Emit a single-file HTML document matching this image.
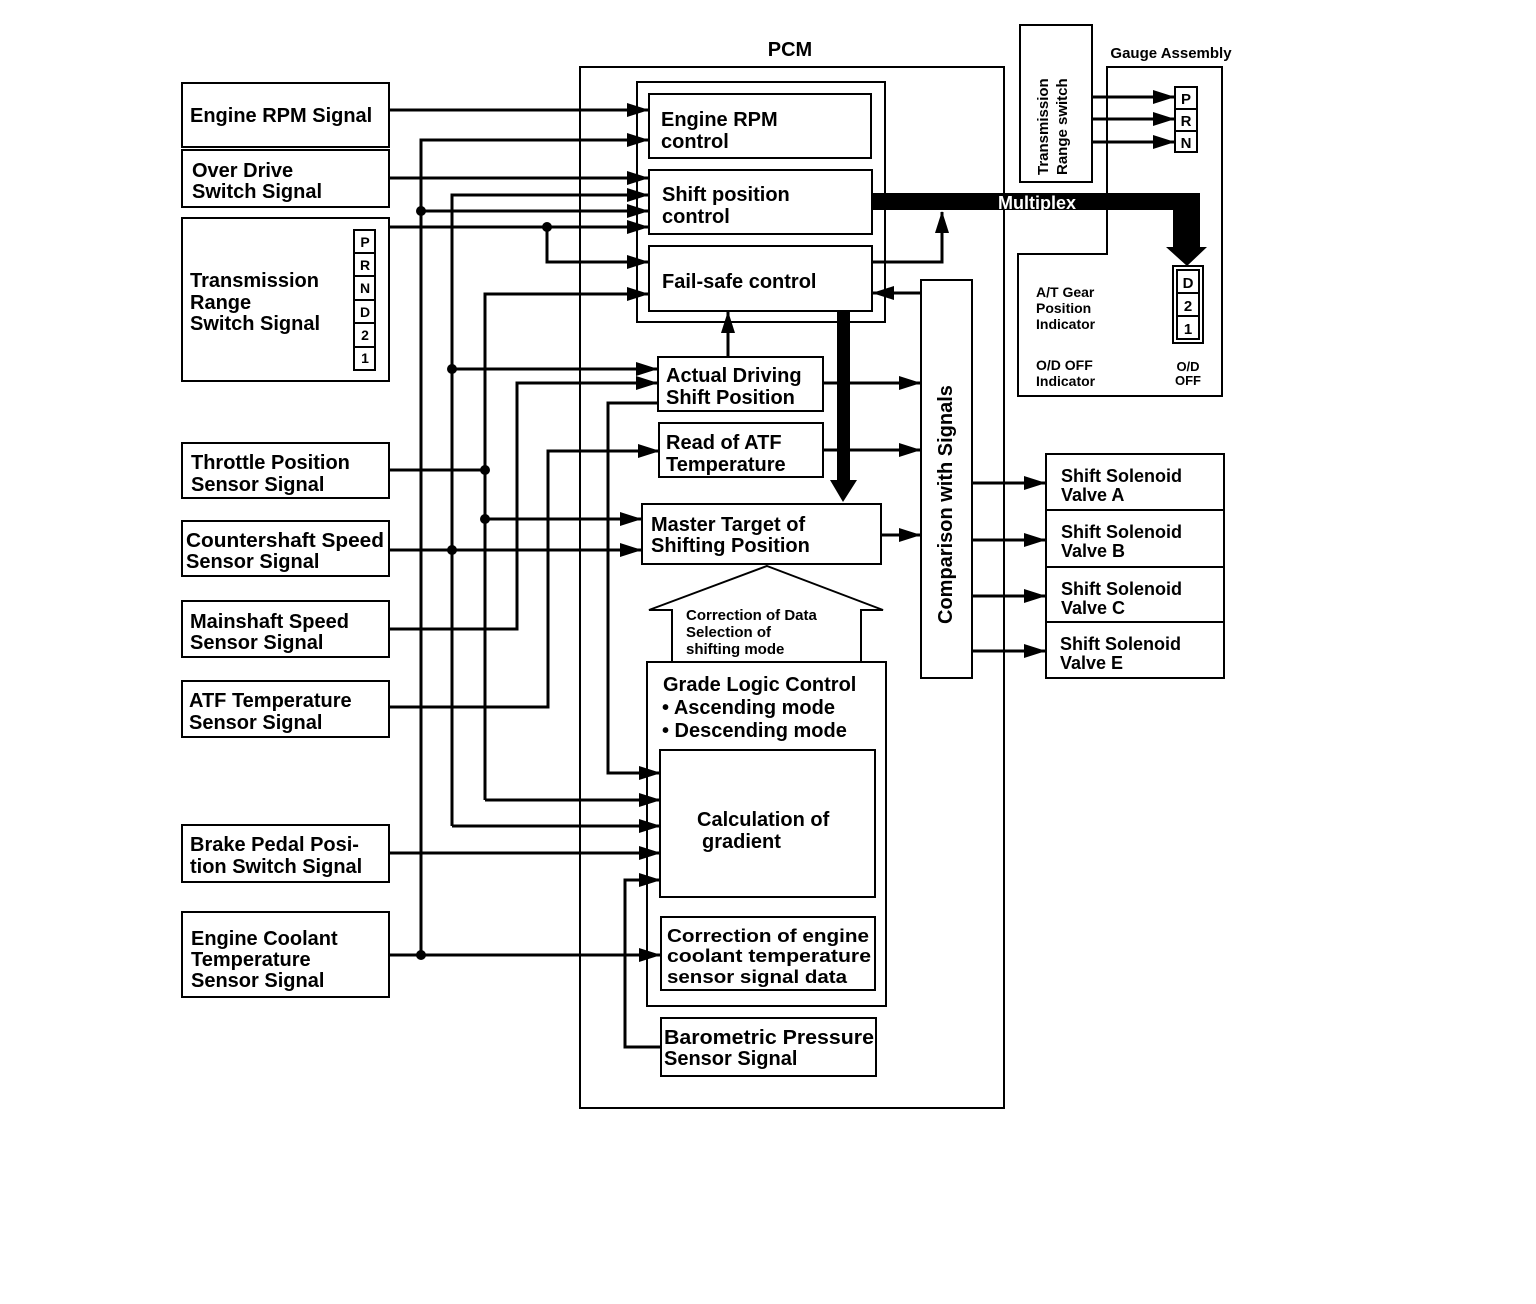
<!DOCTYPE html>
<html><head><meta charset="utf-8"><style>
html,body{margin:0;padding:0;background:#fff}
svg{display:block}
text{font-family:"Liberation Sans",sans-serif;font-weight:bold;fill:#000}
</style></head><body>
<svg width="1536" height="1304" viewBox="0 0 1536 1304" xmlns="http://www.w3.org/2000/svg">
<defs>
<marker id="b" markerWidth="22" markerHeight="14" refX="21" refY="7" orient="auto" markerUnits="userSpaceOnUse" viewBox="0 0 22 14"><path d="M0,0 L22,7 L0,14 Z"/></marker>
</defs>
<g fill="none" stroke="#000" stroke-width="2">
<rect x="182" y="83" width="207" height="64"/>
<rect x="182" y="150" width="207" height="57"/>
<rect x="182" y="218" width="207" height="163"/>
<rect x="182" y="443" width="207" height="55"/>
<rect x="182" y="521" width="207" height="55"/>
<rect x="182" y="601" width="207" height="56"/>
<rect x="182" y="681" width="207" height="56"/>
<rect x="182" y="825" width="207" height="57"/>
<rect x="182" y="912" width="207" height="85"/>
<rect x="354" y="230" width="21" height="140"/>
<line x1="354" y1="253" x2="375" y2="253"/><line x1="354" y1="276" x2="375" y2="276"/><line x1="354" y1="300" x2="375" y2="300"/><line x1="354" y1="323" x2="375" y2="323"/><line x1="354" y1="347" x2="375" y2="347"/>
<rect x="580" y="67" width="424" height="1041"/>
<rect x="637" y="82" width="248" height="240"/>
<rect x="649" y="94" width="222" height="64"/>
<rect x="649" y="170" width="223" height="64"/>
<rect x="649" y="246" width="223" height="65"/>
<rect x="658" y="357" width="165" height="54"/>
<rect x="659" y="423" width="164" height="54"/>
<rect x="642" y="504" width="239" height="60"/>
<rect x="921" y="280" width="51" height="398"/>
<path d="M767,566 L883,610 L861,610 L861,662 L672,662 L672,610 L649,610 Z"/>
<rect x="647" y="662" width="239" height="344"/>
<rect x="660" y="750" width="215" height="147"/>
<rect x="661" y="917" width="214" height="73"/>
<rect x="661" y="1018" width="215" height="58"/>
<rect x="1046" y="454" width="178" height="56"/>
<rect x="1046" y="510" width="178" height="57"/>
<rect x="1046" y="567" width="178" height="55"/>
<rect x="1046" y="622" width="178" height="56"/>
<rect x="1020" y="25" width="72" height="157"/>
<path d="M1107,67 H1222 V396 H1018 V254 H1107 Z"/>
<rect x="1175" y="87" width="22" height="65"/>
<line x1="1175" y1="109" x2="1197" y2="109"/><line x1="1175" y1="131" x2="1197" y2="131"/>
<rect x="1173" y="266" width="30" height="77"/>
<rect x="1177" y="270" width="22" height="69"/>
<line x1="1177" y1="293" x2="1199" y2="293"/><line x1="1177" y1="316" x2="1199" y2="316"/>
</g>
<g fill="none" stroke="#000" stroke-width="3">
<line x1="389" y1="110" x2="648" y2="110" marker-end="url(#b)"/>
<path d="M421,955 V140 H648" marker-end="url(#b)"/>
<line x1="421" y1="211" x2="648" y2="211" marker-end="url(#b)"/>
<line x1="389" y1="955" x2="660" y2="955" marker-end="url(#b)"/>
<line x1="389" y1="178" x2="648" y2="178" marker-end="url(#b)"/>
<path d="M452,826 V195 H648" marker-end="url(#b)"/>
<line x1="452" y1="826" x2="660" y2="826" marker-end="url(#b)"/>
<line x1="452" y1="369" x2="657" y2="369" marker-end="url(#b)"/>
<line x1="389" y1="550" x2="641" y2="550" marker-end="url(#b)"/>
<line x1="389" y1="227" x2="648" y2="227" marker-end="url(#b)"/>
<path d="M547,227 V262 H648" marker-end="url(#b)"/>
<path d="M485,800 V294 H648" marker-end="url(#b)"/>
<line x1="485" y1="800" x2="660" y2="800" marker-end="url(#b)"/>
<line x1="389" y1="470" x2="485" y2="470"/>
<line x1="485" y1="519" x2="641" y2="519" marker-end="url(#b)"/>
<path d="M389,629 H517 V383 H657" marker-end="url(#b)"/>
<path d="M658,403 H608 V773 H660" marker-end="url(#b)"/>
<path d="M389,707 H548 V451 H659" marker-end="url(#b)"/>
<line x1="389" y1="853" x2="660" y2="853" marker-end="url(#b)"/>
<path d="M661,1047 H625 V880 H660" marker-end="url(#b)"/>
<line x1="728" y1="357" x2="728" y2="312" marker-end="url(#b)"/>
<path d="M872,262 H942 V212" marker-end="url(#b)"/>
<line x1="921" y1="293" x2="873" y2="293" marker-end="url(#b)"/>
<line x1="823" y1="383" x2="920" y2="383" marker-end="url(#b)"/>
<line x1="823" y1="450" x2="920" y2="450" marker-end="url(#b)"/>
<line x1="881" y1="535" x2="920" y2="535" marker-end="url(#b)"/>
<line x1="972" y1="483" x2="1045" y2="483" marker-end="url(#b)"/>
<line x1="972" y1="540" x2="1045" y2="540" marker-end="url(#b)"/>
<line x1="972" y1="596" x2="1045" y2="596" marker-end="url(#b)"/>
<line x1="972" y1="651" x2="1045" y2="651" marker-end="url(#b)"/>
<line x1="1092" y1="97" x2="1174" y2="97" marker-end="url(#b)"/>
<line x1="1092" y1="119" x2="1174" y2="119" marker-end="url(#b)"/>
<line x1="1092" y1="142" x2="1174" y2="142" marker-end="url(#b)"/>
</g>
<g fill="#000">
<circle cx="421" cy="211" r="5"/><circle cx="421" cy="955" r="5"/>
<circle cx="452" cy="369" r="5"/><circle cx="452" cy="550" r="5"/>
<circle cx="547" cy="227" r="5"/>
<circle cx="485" cy="470" r="5"/><circle cx="485" cy="519" r="5"/>
<rect x="837" y="311" width="13" height="172"/>
<path d="M830,480 L857,480 L843,502 Z"/>
<path d="M872,193 H1200 V247 H1207 L1187,266 L1166,247 H1173 V210 H872 Z"/>
</g>
<text x="1037" y="209" font-size="18" style="fill:#fff" text-anchor="middle">Multiplex</text>
<g font-size="20">
<text x="190" y="122">Engine RPM Signal</text>
<text x="192" y="177">Over Drive</text><text x="192" y="198">Switch Signal</text>
<text x="190" y="287">Transmission</text><text x="190" y="309">Range</text><text x="190" y="330">Switch Signal</text>
<text x="191" y="469">Throttle Position</text><text x="191" y="491">Sensor Signal</text>
<text x="186" y="547" textLength="198" lengthAdjust="spacingAndGlyphs">Countershaft Speed</text><text x="186" y="568">Sensor Signal</text>
<text x="190" y="628">Mainshaft Speed</text><text x="190" y="649">Sensor Signal</text>
<text x="189" y="707">ATF Temperature</text><text x="189" y="729">Sensor Signal</text>
<text x="190" y="851">Brake Pedal Posi-</text><text x="190" y="873">tion Switch Signal</text>
<text x="191" y="945">Engine Coolant</text><text x="191" y="966">Temperature</text><text x="191" y="987">Sensor Signal</text>
<text x="790" y="56" text-anchor="middle">PCM</text>
<text x="661" y="126">Engine RPM</text><text x="661" y="148">control</text>
<text x="662" y="201">Shift position</text><text x="662" y="223">control</text>
<text x="662" y="288">Fail-safe control</text>
<text x="666" y="382">Actual Driving</text><text x="666" y="404">Shift Position</text>
<text x="666" y="449">Read of ATF</text><text x="666" y="471">Temperature</text>
<text x="651" y="531">Master Target of</text><text x="651" y="552">Shifting Position</text>
<text x="663" y="691">Grade Logic Control</text>
<text x="662" y="714">• Ascending mode</text>
<text x="662" y="737">• Descending mode</text>
<text x="697" y="826">Calculation of</text><text x="702" y="848">gradient</text>
<text x="664" y="1044" textLength="210" lengthAdjust="spacingAndGlyphs">Barometric Pressure</text><text x="664" y="1065">Sensor Signal</text>
<text transform="translate(952,624) rotate(-90)">Comparison with Signals</text>
</g>
<g font-size="18">
<text x="667" y="942" textLength="202" lengthAdjust="spacingAndGlyphs">Correction of engine</text><text x="667" y="962" textLength="204" lengthAdjust="spacingAndGlyphs">coolant temperature</text><text x="667" y="983" textLength="180" lengthAdjust="spacingAndGlyphs">sensor signal data</text>
<text x="1061" y="482">Shift Solenoid</text><text x="1061" y="501">Valve A</text>
<text x="1061" y="538">Shift Solenoid</text><text x="1061" y="557">Valve B</text>
<text x="1061" y="595">Shift Solenoid</text><text x="1061" y="614">Valve C</text>
<text x="1060" y="650">Shift Solenoid</text><text x="1060" y="669">Valve E</text>
</g>
<g font-size="15">
<text x="686" y="620">Correction of Data</text><text x="686" y="637">Selection of</text><text x="686" y="654">shifting mode</text>
<text x="1171" y="58" text-anchor="middle">Gauge Assembly</text>
<text transform="translate(1048,175) rotate(-90)">Transmission</text>
<text transform="translate(1067,175) rotate(-90)">Range switch</text>
<text x="1036" y="297" font-size="14">A/T Gear</text><text x="1036" y="313" font-size="14">Position</text><text x="1036" y="329" font-size="14">Indicator</text>
<text x="1036" y="370" font-size="14">O/D OFF</text><text x="1036" y="386" font-size="14">Indicator</text>
</g>
<g font-size="15" text-anchor="middle">
<text x="1186" y="104">P</text><text x="1186" y="126">R</text><text x="1186" y="148">N</text>
<text x="1188" y="288">D</text><text x="1188" y="311">2</text><text x="1188" y="334">1</text>
</g>
<g font-size="14" text-anchor="middle">
<text x="365" y="247">P</text><text x="365" y="270">R</text><text x="365" y="293">N</text><text x="365" y="317">D</text><text x="365" y="340">2</text><text x="365" y="363">1</text>
</g>
<g font-size="13" text-anchor="middle" style="font-weight:normal">
<text x="1188" y="371">O/D</text><text x="1188" y="385">OFF</text>
</g>
</svg>
</body></html>
